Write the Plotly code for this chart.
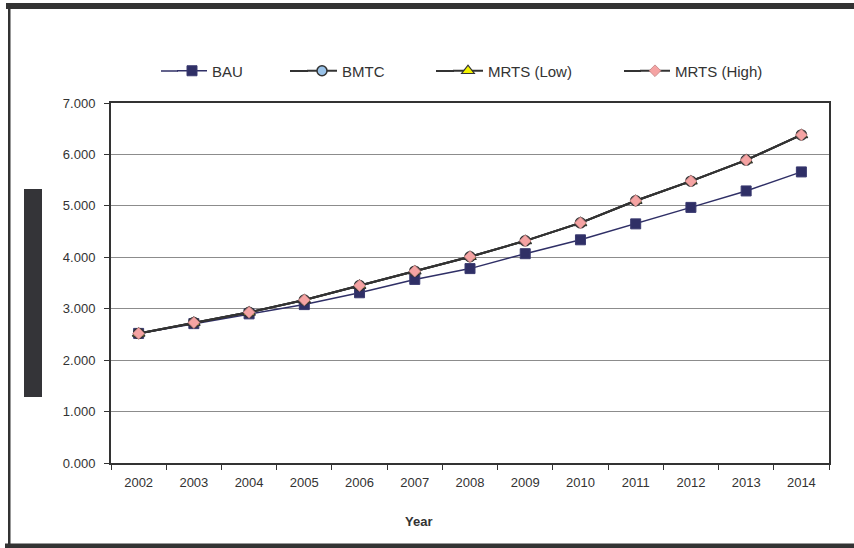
import plotly.graph_objects as go

# Category axis and series
years = ["2002", "2003", "2004", "2005", "2006", "2007", "2008",
         "2009", "2010", "2011", "2012", "2013", "2014"]
bau = [2.52, 2.71, 2.90, 3.08, 3.31, 3.57, 3.78, 4.07, 4.34, 4.65, 4.97, 5.29, 5.66]
bmtc = [2.52, 2.73, 2.93, 3.17, 3.45, 3.73, 4.01, 4.32, 4.67, 5.10, 5.48, 5.89, 6.38]
mrts_low = [2.52, 2.73, 2.93, 3.17, 3.45, 3.73, 4.01, 4.32, 4.67, 5.10, 5.48, 5.89, 6.38]
mrts_high = [2.52, 2.73, 2.93, 3.17, 3.45, 3.73, 4.01, 4.32, 4.67, 5.10, 5.48, 5.89, 6.38]
y_ticks = [0, 1, 2, 3, 4, 5, 6, 7]

W, H = 854, 548
L, R, T, B = 111, 829, 103, 463

FONT = "Liberation Sans, Arial, sans-serif"
DARK = "#333333"
NAVY = "#2F2F66"


def px(x):
    return (x - L) / (R - L)


def py(y):
    return (B - y) / (B - T)


fig = go.Figure()

fig.add_trace(go.Scatter(
    x=years, y=bau, name="BAU", mode="lines+markers",
    line=dict(color=NAVY, width=1.5),
    marker=dict(symbol="square", size=10, color=NAVY, line=dict(color="#3A3A70", width=1)),
    legend="legend"))
fig.add_trace(go.Scatter(
    x=years, y=bmtc, name="BMTC", mode="lines+markers",
    line=dict(color=DARK, width=2),
    marker=dict(symbol="circle", size=10, color="#99C2E8", line=dict(color=DARK, width=1.5)),
    legend="legend2"))
fig.add_trace(go.Scatter(
    x=years, y=mrts_low, name="MRTS (Low)", mode="lines+markers",
    line=dict(color=DARK, width=2),
    marker=dict(symbol="triangle-up", size=11, color="#F2F200", line=dict(color=DARK, width=1.2)),
    legend="legend3"))
fig.add_trace(go.Scatter(
    x=years, y=mrts_high, name="MRTS (High)", mode="lines+markers",
    line=dict(color=DARK, width=2),
    marker=dict(symbol="diamond", size=9, color="#F5A3A3", line=dict(color="#C08080", width=0.8)),
    legend="legend4"))

leg_common = dict(orientation="h", xanchor="left", yanchor="middle",
                  font=dict(family=FONT, size=15, color=DARK),
                  bgcolor="rgba(0,0,0,0)", borderwidth=0)

# Legend placement: (left end of the key line, legend box left, line colour)
LEG_Y = 71
leg_items = [(161, 172, NAVY), (290, 302, DARK), (436, 448, DARK), (624, 635, DARK)]

# Outer frame and the dark vertical block at the left
shapes = [
    dict(type="rect", xref="paper", yref="paper",
         x0=px(6), x1=px(856), y0=py(9), y1=py(3),
         fillcolor="#333333", line=dict(width=0), layer="above"),
    dict(type="rect", xref="paper", yref="paper",
         x0=px(8), x1=px(10.5), y0=py(548), y1=py(5),
         fillcolor="#333333", line=dict(width=0), layer="above"),
    dict(type="rect", xref="paper", yref="paper",
         x0=px(5), x1=px(856), y0=py(549), y1=py(543.5),
         fillcolor="#333333", line=dict(width=0), layer="above"),
    dict(type="rect", xref="paper", yref="paper",
         x0=px(24), x1=px(42), y0=py(397), y1=py(189),
         fillcolor="#343438", line=dict(width=0), layer="above"),
]
# Longer key lines to the left of each legend symbol
for start, box, col in leg_items:
    shapes.append(dict(type="line", xref="paper", yref="paper",
                       x0=px(start), x1=px(box + 6), y0=py(LEG_Y), y1=py(LEG_Y),
                       line=dict(color=col, width=1.5 if col == NAVY else 2)))

fig.update_layout(
    width=W, height=H,
    margin=dict(l=L, r=W - R, t=T, b=H - B),
    paper_bgcolor="white", plot_bgcolor="white",
    font=dict(family=FONT, size=12, color=DARK),
    showlegend=True,
    legend=dict(x=px(leg_items[0][1]), y=py(LEG_Y), **leg_common),
    legend2=dict(x=px(leg_items[1][1]), y=py(LEG_Y), **leg_common),
    legend3=dict(x=px(leg_items[2][1]), y=py(LEG_Y), **leg_common),
    legend4=dict(x=px(leg_items[3][1]), y=py(LEG_Y), **leg_common),
    shapes=shapes,
    annotations=[dict(text="<b>Year</b>", xref="paper", yref="paper",
                      x=px(418), y=py(521), xanchor="center", yanchor="middle",
                      showarrow=False,
                      font=dict(family=FONT, size=13, color=DARK))],
)

fig.update_xaxes(
    type="category", range=[-0.5, len(years) - 0.5], tickson="boundaries",
    ticks="outside", ticklen=5, tickcolor=DARK, tickwidth=1,
    showline=True, linecolor=DARK, linewidth=2, mirror=True,
    showgrid=False, ticklabelstandoff=6,
    tickfont=dict(family=FONT, size=13, color=DARK),
)
fig.update_yaxes(
    range=[0, 7], tickvals=y_ticks, tickformat=".3f",
    ticks="outside", ticklen=5, tickcolor=DARK, tickwidth=1,
    showline=True, linecolor=DARK, linewidth=2, mirror=True,
    showgrid=True, gridcolor="#8C8C8C", gridwidth=1, zeroline=False,
    ticklabelstandoff=6,
    tickfont=dict(family=FONT, size=13, color=DARK),
)

fig.write_html("out.html")
